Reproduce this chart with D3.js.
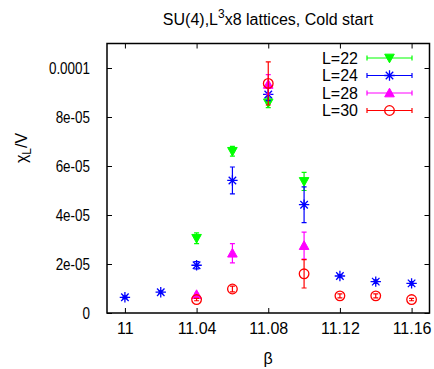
<!DOCTYPE html>
<html>
<head>
<meta charset="utf-8">
<script src="https://cdn.jsdelivr.net/npm/d3@7"></script>
<style>
  html, body { margin: 0; padding: 0; background: #fff; }
  svg text { font-family: "Liberation Sans", Arial, Helvetica, sans-serif; fill: #000; }
</style>
</head>
<body>
<svg id="chart" width="434" height="369"></svg>
<script>
// Susceptibility chi_L/V vs beta for several lattice sizes (cold start)
const betaL22 = [11.04, 11.06, 11.08, 11.10];
const chiL22  = [3.05e-5, 6.60e-5, 8.58e-5, 5.37e-5];
const errL22  = [0.22e-5, 0.20e-5, 0.20e-5, 0.37e-5];

const betaL24 = [11.00, 11.02, 11.04, 11.06, 11.08, 11.10, 11.12, 11.14, 11.16];
const chiL24  = [0.64e-5, 0.85e-5, 1.95e-5, 5.41e-5, 8.92e-5, 4.42e-5, 1.51e-5, 1.28e-5, 1.21e-5];
const errL24  = [0.05e-5, 0.05e-5, 0.15e-5, 0.55e-5, 0.25e-5, 0.73e-5, 0.06e-5, 0.07e-5, 0.07e-5];

const betaL28 = [11.04, 11.06, 11.08, 11.10];
const chiL28  = [0.75e-5, 2.44e-5, 9.33e-5, 2.75e-5];
const errL28  = [0.05e-5, 0.39e-5, 0.40e-5, 0.55e-5];

const betaL30 = [11.04, 11.06, 11.08, 11.10, 11.12, 11.14, 11.16];
const chiL30  = [0.55e-5, 0.98e-5, 9.37e-5, 1.60e-5, 0.70e-5, 0.70e-5, 0.55e-5];
const errL30  = [0.05e-5, 0.12e-5, 0.88e-5, 0.58e-5, 0.08e-5, 0.08e-5, 0.05e-5];

const seriesNames = ["L=22", "L=24", "L=28", "L=30"];
const seriesColors = ["#00ff00", "#0000ff", "#ff00ff", "#ff0000"];
const seriesSymbols = ["triDown", "star", "triUp", "circle"];

const xTickValues = [11.00, 11.04, 11.08, 11.12, 11.16];
const xTickLabels = ["11", "11.04", "11.08", "11.12", "11.16"];
const yTickValues = [0, 2e-5, 4e-5, 6e-5, 8e-5, 1e-4];
const yTickLabels = ["0", "2e-05", "4e-05", "6e-05", "8e-05", "0.0001"];

const series = [
  { beta: betaL22, chi: chiL22, err: errL22 },
  { beta: betaL24, chi: chiL24, err: errL24 },
  { beta: betaL28, chi: chiL28, err: errL28 },
  { beta: betaL30, chi: chiL30, err: errL30 }
].map((s, i) => ({
  name: seriesNames[i], color: seriesColors[i], symbol: seriesSymbols[i],
  points: s.beta.map((b, j) => ({ x: b, y: s.chi[j], e: s.err[j] }))
}));

const svg = d3.select("#chart");
const W = 434, H = 369;
const margin = { left: 107, right: 4.5, top: 43.5, bottom: 56 };
const x = d3.scaleLinear().domain([10.99, 11.17]).range([margin.left, W - margin.right]);
const y = d3.scaleLinear().domain([0, 1.1e-4]).range([H - margin.bottom, margin.top]);

const fs = 16;
const tickLen = 5;
const yLabelSqueeze = 0.84;   // y tick labels are set in a condensed width

// axes with inward ticks, mirrored on the opposite sides
const xFmt = (d) => xTickLabels[xTickValues.indexOf(d)];
const yFmt = (d) => yTickLabels[yTickValues.indexOf(d)];

const gxB = svg.append("g").attr("transform", `translate(0,${y.range()[0]})`)
  .call(d3.axisBottom(x).tickValues(xTickValues).tickFormat(xFmt).tickSizeInner(-tickLen).tickSizeOuter(0).tickPadding(10));
const gxT = svg.append("g").attr("transform", `translate(0,${y.range()[1]})`)
  .call(d3.axisTop(x).tickValues(xTickValues).tickFormat("").tickSizeInner(-tickLen).tickSizeOuter(0));
const gyL = svg.append("g").attr("transform", `translate(${x.range()[0]},0)`)
  .call(d3.axisLeft(y).tickValues(yTickValues).tickFormat(yFmt).tickSizeInner(-tickLen).tickSizeOuter(0).tickPadding(10));
const gyR = svg.append("g").attr("transform", `translate(${x.range()[1]},0)`)
  .call(d3.axisRight(y).tickValues(yTickValues).tickFormat("").tickSizeInner(-tickLen).tickSizeOuter(0));

[gxB, gxT, gyL, gyR].forEach(g => {
  g.select(".domain").remove();
  g.selectAll(".tick line").attr("stroke", "#000").attr("stroke-width", 1);
  g.selectAll(".tick text").attr("font-size", fs).attr("font-family", null);
});
gyL.selectAll(".tick text")
  .attr("x", -17 / yLabelSqueeze)
  .attr("transform", `scale(${yLabelSqueeze},1)`);

// frame
svg.append("rect")
  .attr("x", x.range()[0]).attr("y", y.range()[1])
  .attr("width", x.range()[1] - x.range()[0])
  .attr("height", y.range()[0] - y.range()[1])
  .attr("fill", "none").attr("stroke", "#000").attr("stroke-width", 1.5);

// symbol drawing
function drawSymbol(g, type, cx, cy, color) {
  if (type === "triDown" || type === "triUp") {
    const s = type === "triDown" ? 1 : -1;
    const h = 4.8;
    g.append("path")
      .attr("d", `M${cx - 4.8},${cy - s * h * 0.8} L${cx + 4.8},${cy - s * h * 0.8} L${cx},${cy + s * h} Z`)
      .attr("fill", color).attr("stroke", color).attr("stroke-width", 1);
  } else if (type === "star") {
    const r = 5.2;
    const d = r * 0.72;
    g.append("path")
      .attr("d", `M${cx - r},${cy} L${cx + r},${cy} M${cx},${cy - r} L${cx},${cy + r} ` +
        `M${cx - d},${cy - d} L${cx + d},${cy + d} M${cx - d},${cy + d} L${cx + d},${cy - d}`)
      .attr("stroke", color).attr("stroke-width", 1.3).attr("fill", "none");
  } else if (type === "circle") {
    g.append("circle").attr("cx", cx).attr("cy", cy).attr("r", 4.8)
      .attr("fill", "none").attr("stroke", color).attr("stroke-width", 1.3);
  }
}

// data with error bars
const capW = 2.5;
series.forEach(s => {
  const g = svg.append("g");
  s.points.forEach(p => {
    const px = x(p.x), yt = y(p.y + p.e), yb = y(p.y - p.e);
    g.append("path")
      .attr("d", `M${px},${yt} L${px},${yb} M${px - capW},${yt} L${px + capW},${yt} M${px - capW},${yb} L${px + capW},${yb}`)
      .attr("stroke", s.color).attr("stroke-width", 1.2).attr("fill", "none");
    drawSymbol(g, s.symbol, px, y(p.y), s.color);
  });
});

// legend
const legX0 = 367, legX1 = 412, legTextX = 358, legY0 = 58, legDY = 17.5;
series.forEach((s, i) => {
  const ly = legY0 + i * legDY;
  const g = svg.append("g");
  g.append("text").attr("x", legTextX).attr("y", ly).attr("dy", "0.35em")
    .attr("text-anchor", "end").attr("font-size", fs).text(s.name);
  g.append("path")
    .attr("d", `M${legX0},${ly} L${legX1},${ly} M${legX0},${ly - capW} L${legX0},${ly + capW} M${legX1},${ly - capW} L${legX1},${ly + capW}`)
    .attr("stroke", s.color).attr("stroke-width", 1.2).attr("fill", "none");
  drawSymbol(g, s.symbol, (legX0 + legX1) / 2, ly, s.color);
});

// title
const title = svg.append("text").attr("x", 268).attr("y", 25)
  .attr("text-anchor", "middle").attr("font-size", fs);
title.append("tspan").text("SU(4),L");
title.append("tspan").attr("dy", -7).attr("font-size", 12).text("3");
title.append("tspan").attr("dy", 7).text("x8 lattices, Cold start");

// axis labels
svg.append("text").attr("x", 268).attr("y", 364)
  .attr("text-anchor", "middle").attr("font-size", fs).text("β");

const yl = svg.append("text")
  .attr("transform", "translate(27,148) rotate(-90)")
  .attr("text-anchor", "middle").attr("font-size", fs);
yl.append("tspan").text("χ");
yl.append("tspan").attr("dy", 4).attr("font-size", 12).text("L");
yl.append("tspan").attr("dy", -4).text("/V");
</script>
</body>
</html>
